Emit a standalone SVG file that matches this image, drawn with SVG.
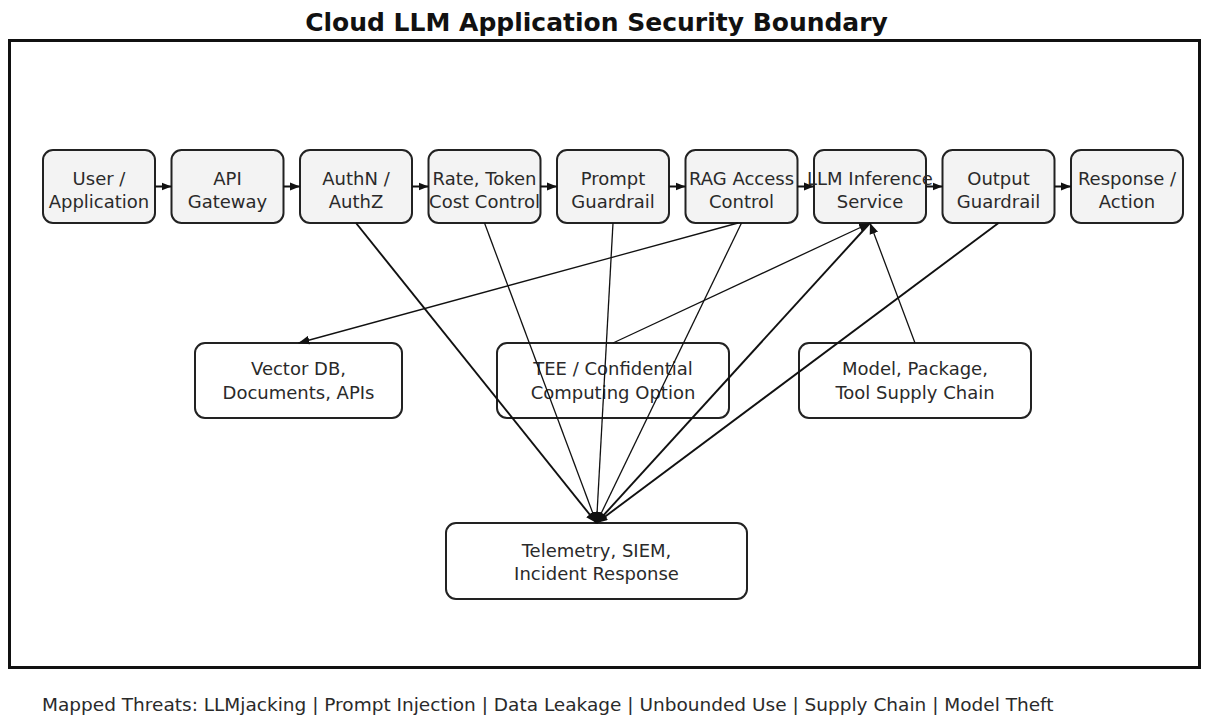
<svg xmlns="http://www.w3.org/2000/svg" width="1205" height="718" viewBox="0 0 1205 718">
<style>
text{font-family:"DejaVu Sans","Liberation Sans",sans-serif;fill:#2a2a2a;}
.t{font-size:18px;text-anchor:middle;}
.top{fill:#f3f3f3;stroke:#222;stroke-width:2;}
.mid{fill:#fff;stroke:#222;stroke-width:2;}
.c{stroke:#111;fill:none;stroke-width:1.3;}
.ct{stroke:#111;fill:none;stroke-width:1.9;}
.h{stroke:#111;fill:none;stroke-width:2;}
</style>
<defs>
<marker id="ah" viewBox="0 0 10 8" refX="10" refY="4" markerWidth="11" markerHeight="9" markerUnits="userSpaceOnUse" orient="auto"><path d="M0,0 L10,4 L0,8 z" fill="#111"/></marker>
<marker id="ahs" viewBox="0 0 10 8" refX="10" refY="4" markerWidth="10" markerHeight="9" markerUnits="userSpaceOnUse" orient="auto"><path d="M0,0 L10,4 L0,8 z" fill="#111"/></marker>
</defs>
<rect width="1205" height="718" fill="#fff"/>
<text x="596.5" y="31" style="font-size:25px;font-weight:bold;text-anchor:middle;fill:#111">Cloud LLM Application Security Boundary</text>
<rect x="9.5" y="40.5" width="1190" height="627" fill="none" stroke="#111" stroke-width="3"/>
<g id="n1"><rect class="top" x="43" y="150" width="112" height="73" rx="10"/><text class="t" x="99" y="185">User /</text><text class="t" x="99" y="208">Application</text></g>
<g id="n2"><rect class="top" x="171.5" y="150" width="112" height="73" rx="10"/><text class="t" x="227.5" y="185">API</text><text class="t" x="227.5" y="208">Gateway</text></g>
<g id="n3"><rect class="top" x="300" y="150" width="112" height="73" rx="10"/><text class="t" x="356" y="185">AuthN /</text><text class="t" x="356" y="208">AuthZ</text></g>
<g id="n4"><rect class="top" x="428.5" y="150" width="112" height="73" rx="10"/><text class="t" x="484.5" y="185">Rate, Token</text><text class="t" x="484.5" y="208">Cost Control</text></g>
<g id="n5"><rect class="top" x="557" y="150" width="112" height="73" rx="10"/><text class="t" x="613" y="185">Prompt</text><text class="t" x="613" y="208">Guardrail</text></g>
<g id="n6"><rect class="top" x="685.5" y="150" width="112" height="73" rx="10"/><text class="t" x="741.5" y="185">RAG Access</text><text class="t" x="741.5" y="208">Control</text></g>
<g id="n7"><rect class="top" x="814" y="150" width="112" height="73" rx="10"/><text class="t" x="870" y="185">LLM Inference</text><text class="t" x="870" y="208">Service</text></g>
<g id="n8"><rect class="top" x="942.5" y="150" width="112" height="73" rx="10"/><text class="t" x="998.5" y="185">Output</text><text class="t" x="998.5" y="208">Guardrail</text></g>
<g id="n9"><rect class="top" x="1071" y="150" width="112" height="73" rx="10"/><text class="t" x="1127" y="185">Response /</text><text class="t" x="1127" y="208">Action</text></g>
<g id="vec"><rect class="mid" x="195" y="343" width="207" height="75" rx="10"/><text class="t" x="298.5" y="375">Vector DB,</text><text class="t" x="298.5" y="399">Documents, APIs</text></g>
<g id="tee"><rect class="mid" x="497" y="343" width="232" height="75" rx="10"/><text class="t" x="613" y="375">TEE / Confidential</text><text class="t" x="613" y="399">Computing Option</text></g>
<g id="sup"><rect class="mid" x="799" y="343" width="232" height="75" rx="10"/><text class="t" x="915" y="375">Model, Package,</text><text class="t" x="915" y="399">Tool Supply Chain</text></g>
<g id="tel"><rect class="mid" x="446" y="523" width="301" height="76" rx="10"/><text class="t" x="596.5" y="557">Telemetry, SIEM,</text><text class="t" x="596.5" y="580">Incident Response</text></g>
<g id="connectors">
<line class="h" x1="155" y1="186.5" x2="171.5" y2="186.5" marker-end="url(#ahs)"/>
<line class="h" x1="283.5" y1="186.5" x2="300" y2="186.5" marker-end="url(#ahs)"/>
<line class="h" x1="412" y1="186.5" x2="428.5" y2="186.5" marker-end="url(#ahs)"/>
<line class="h" x1="540.5" y1="186.5" x2="557" y2="186.5" marker-end="url(#ahs)"/>
<line class="h" x1="669" y1="186.5" x2="685.5" y2="186.5" marker-end="url(#ahs)"/>
<line class="h" x1="797.5" y1="186.5" x2="814" y2="186.5" marker-end="url(#ahs)"/>
<line class="h" x1="926" y1="186.5" x2="942.5" y2="186.5" marker-end="url(#ahs)"/>
<line class="h" x1="1054.5" y1="186.5" x2="1071" y2="186.5" marker-end="url(#ahs)"/>
<line class="c" x1="738" y1="223" x2="298.5" y2="343" marker-end="url(#ah)"/>
<line class="c" x1="613" y1="343" x2="870" y2="223" marker-end="url(#ah)"/>
<line class="c" x1="915" y1="343" x2="870" y2="223" marker-end="url(#ah)"/>
<line class="ct" x1="356" y1="223" x2="596.5" y2="523" marker-end="url(#ah)"/>
<line class="c" x1="484.5" y1="223" x2="596.5" y2="523" marker-end="url(#ah)"/>
<line class="c" x1="613" y1="223" x2="596.5" y2="523" marker-end="url(#ah)"/>
<line class="c" x1="741.5" y1="223" x2="596.5" y2="523" marker-end="url(#ah)"/>
<line class="ct" x1="870" y1="223" x2="596.5" y2="523" marker-end="url(#ah)"/>
<line class="ct" x1="998.5" y1="223" x2="596.5" y2="523" marker-end="url(#ah)"/>
</g>
<text x="42" y="711" style="font-size:18.5px">Mapped Threats: LLMjacking | Prompt Injection | Data Leakage | Unbounded Use | Supply Chain | Model Theft</text>
</svg>
